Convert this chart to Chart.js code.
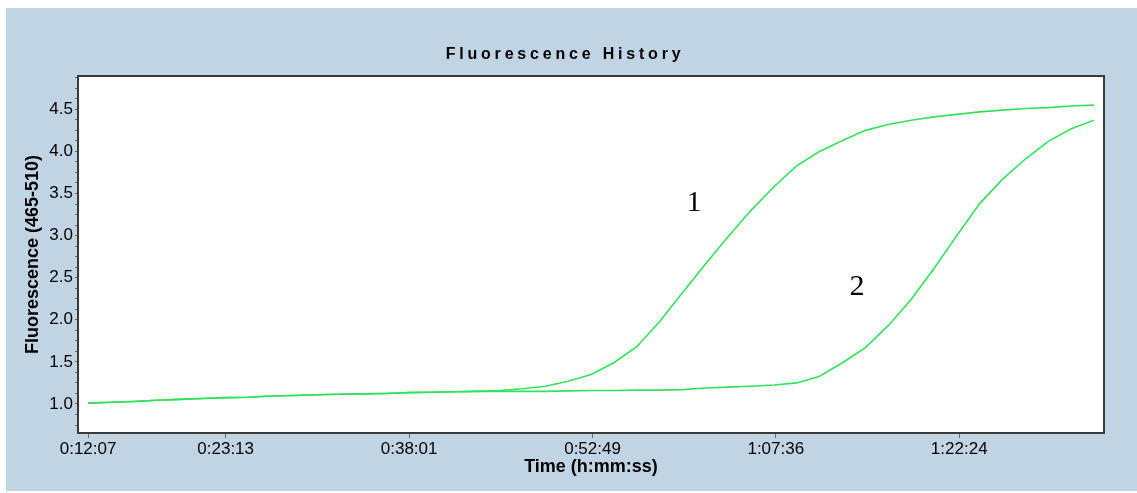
<!DOCTYPE html>
<html>
<head>
<meta charset="utf-8">
<script src="https://cdn.jsdelivr.net/npm/chart.js@4"></script>
<style>
    html, body { margin: 0; padding: 0; background: #fff; }
    #wrap { position: absolute; left: 6px; top: 8px; width: 1131px; height: 483px; background: #c1d4e4; }
</style>
</head>
<body>
<div id="wrap"><canvas id="chart" width="1131" height="483"></canvas></div>
<script>
// reading times in seconds
const times = [727, 838, 948, 1059, 1170, 1280, 1391, 1502, 1612, 1723,
    1834, 1944, 2055, 2166, 2276, 2387, 2498, 2608, 2719, 2830,
    2940, 3051, 3162, 3272, 3383, 3494, 3604, 3715, 3826, 3936,
    4047, 4158, 4268, 4379, 4490, 4600, 4711, 4822, 4932, 5043,
    5154, 5264, 5375, 5486, 5596];

const sample1 = [1.01, 1.02, 1.03, 1.045, 1.055, 1.065, 1.075, 1.08, 1.095, 1.10,
    1.11, 1.115, 1.12, 1.125, 1.135, 1.14, 1.145, 1.15, 1.16, 1.18,
    1.21, 1.27, 1.35, 1.49, 1.68, 1.98, 2.32, 2.66, 2.99, 3.30,
    3.58, 3.83, 4.00, 4.13, 4.25, 4.32, 4.37, 4.41, 4.44, 4.47,
    4.49, 4.51, 4.52, 4.54, 4.55];

const sample2 = [1.01, 1.02, 1.03, 1.045, 1.055, 1.065, 1.075, 1.08, 1.095, 1.10,
    1.11, 1.115, 1.12, 1.125, 1.135, 1.14, 1.145, 1.15, 1.15, 1.15,
    1.15, 1.155, 1.16, 1.16, 1.165, 1.165, 1.17, 1.19, 1.20, 1.21,
    1.225, 1.25, 1.33, 1.49, 1.67, 1.93, 2.24, 2.61, 3.00, 3.38,
    3.67, 3.91, 4.12, 4.27, 4.37];

const xTickLabels = ["0:12:07", "0:23:13", "0:38:01", "0:52:49", "1:07:36", "1:22:24"];
const yTickLabels = ["1.0", "1.5", "2.0", "2.5", "3.0", "3.5", "4.0", "4.5"];

// curve labels: [text, time (s), value]
const curveLabels = [["1", 3660, 3.39], ["2", 4449, 2.39]];

const GREEN = "#35e05e";
const SANS = "'Liberation Sans', Arial, sans-serif";

function toSeconds(s) {
    const p = s.split(":").map(Number);
    return p[0] * 3600 + p[1] * 60 + p[2];
}

function toClock(sec) {
    const h = Math.floor(sec / 3600);
    const m = Math.floor((sec % 3600) / 60);
    const s = sec % 60;
    return h + ":" + String(m).padStart(2, "0") + ":" + String(s).padStart(2, "0");
}

const yMajor = yTickLabels.map(Number);
const yMinor = [];
for (let v = 0.75; v < 4.9; v += 0.125) yMinor.push(Math.round(v * 1000) / 1000);

const framePlugin = {
    id: "frame",
    beforeDraw(chart) {
        const a = chart.chartArea;
        const ctx = chart.ctx;
        ctx.save();
        ctx.fillStyle = "#fff";
        ctx.fillRect(a.left, a.top, a.right - a.left, a.bottom - a.top);
        ctx.restore();
    },
    afterDraw(chart) {
        const a = chart.chartArea;
        const ctx = chart.ctx;
        ctx.save();
        ctx.strokeStyle = "#3a3a3a";
        ctx.lineWidth = 2;
        ctx.strokeRect(a.left - 1, a.top - 1, a.right - a.left + 2, a.bottom - a.top + 2);

        // title with wide letter spacing
        ctx.fillStyle = "#000";
        ctx.font = "bold 16px " + SANS;
        ctx.letterSpacing = "3.8px";
        ctx.textAlign = "center";
        ctx.textBaseline = "middle";
        ctx.fillText("Fluorescence History", 559, 47);
        ctx.letterSpacing = "0px";

        // curve numbers
        ctx.font = "30px 'Liberation Serif', 'Times New Roman', serif";
        const xs = chart.scales.x, ys = chart.scales.y;
        curveLabels.forEach(([txt, t, v]) => {
            ctx.fillText(txt, xs.getPixelForValue(t), ys.getPixelForValue(v));
        });
        ctx.restore();
    }
};

new Chart(document.getElementById("chart"), {
    type: "line",
    data: {
        datasets: [
            {
                label: "1",
                data: times.map((t, i) => ({ x: t, y: sample1[i] })),
                borderColor: GREEN,
                borderWidth: 1.6,
                pointRadius: 0,
                tension: 0
            },
            {
                label: "2",
                data: times.map((t, i) => ({ x: t, y: sample2[i] })),
                borderColor: GREEN,
                borderWidth: 1.6,
                pointRadius: 0,
                tension: 0
            }
        ]
    },
    options: {
        responsive: false,
        animation: false,
        devicePixelRatio: 1,
        layout: { padding: { top: 69, right: 34, left: 0, bottom: 0 } },
        plugins: {
            legend: { display: false },
            tooltip: { enabled: false }
        },
        scales: {
            x: {
                type: "linear",
                min: 683,
                max: 5640,
                afterFit: s => { s.height = 59; },
                afterBuildTicks: s => { s.ticks = xTickLabels.map(l => ({ value: toSeconds(l) })); },
                border: { display: false },
                grid: { drawOnChartArea: false, drawTicks: true, tickLength: 6, tickColor: "#666" },
                ticks: {
                    autoSkip: false,
                    maxRotation: 0,
                    padding: 1,
                    color: "#000",
                    font: { family: SANS, size: 17 },
                    callback: v => toClock(v)
                },
                title: {
                    display: true,
                    text: "Time (h:mm:ss)",
                    color: "#000",
                    font: { family: SANS, size: 18, weight: "bold" },
                    padding: { top: 0, bottom: 13 }
                }
            },
            y: {
                type: "linear",
                min: 0.667,
                max: 4.884,
                afterFit: s => { s.width = 73; },
                afterBuildTicks: s => { s.ticks = yMinor.map(v => ({ value: v })); },
                border: { display: false },
                grid: { drawOnChartArea: false, drawTicks: true, tickLength: 4, tickColor: "#666" },
                ticks: {
                    autoSkip: false,
                    padding: 2,
                    color: "#000",
                    font: { family: SANS, size: 17 },
                    callback: v => {
                        const i = yMajor.findIndex(m => Math.abs(m - v) < 1e-6);
                        return i >= 0 ? yTickLabels[i] : "";
                    }
                },
                title: {
                    display: true,
                    text: "Fluorescence (465-510)",
                    color: "#000",
                    font: { family: SANS, size: 18, weight: "bold" },
                    padding: { top: 16, bottom: 0 }
                }
            }
        }
    },
    plugins: [framePlugin]
});
</script>
</body>
</html>
